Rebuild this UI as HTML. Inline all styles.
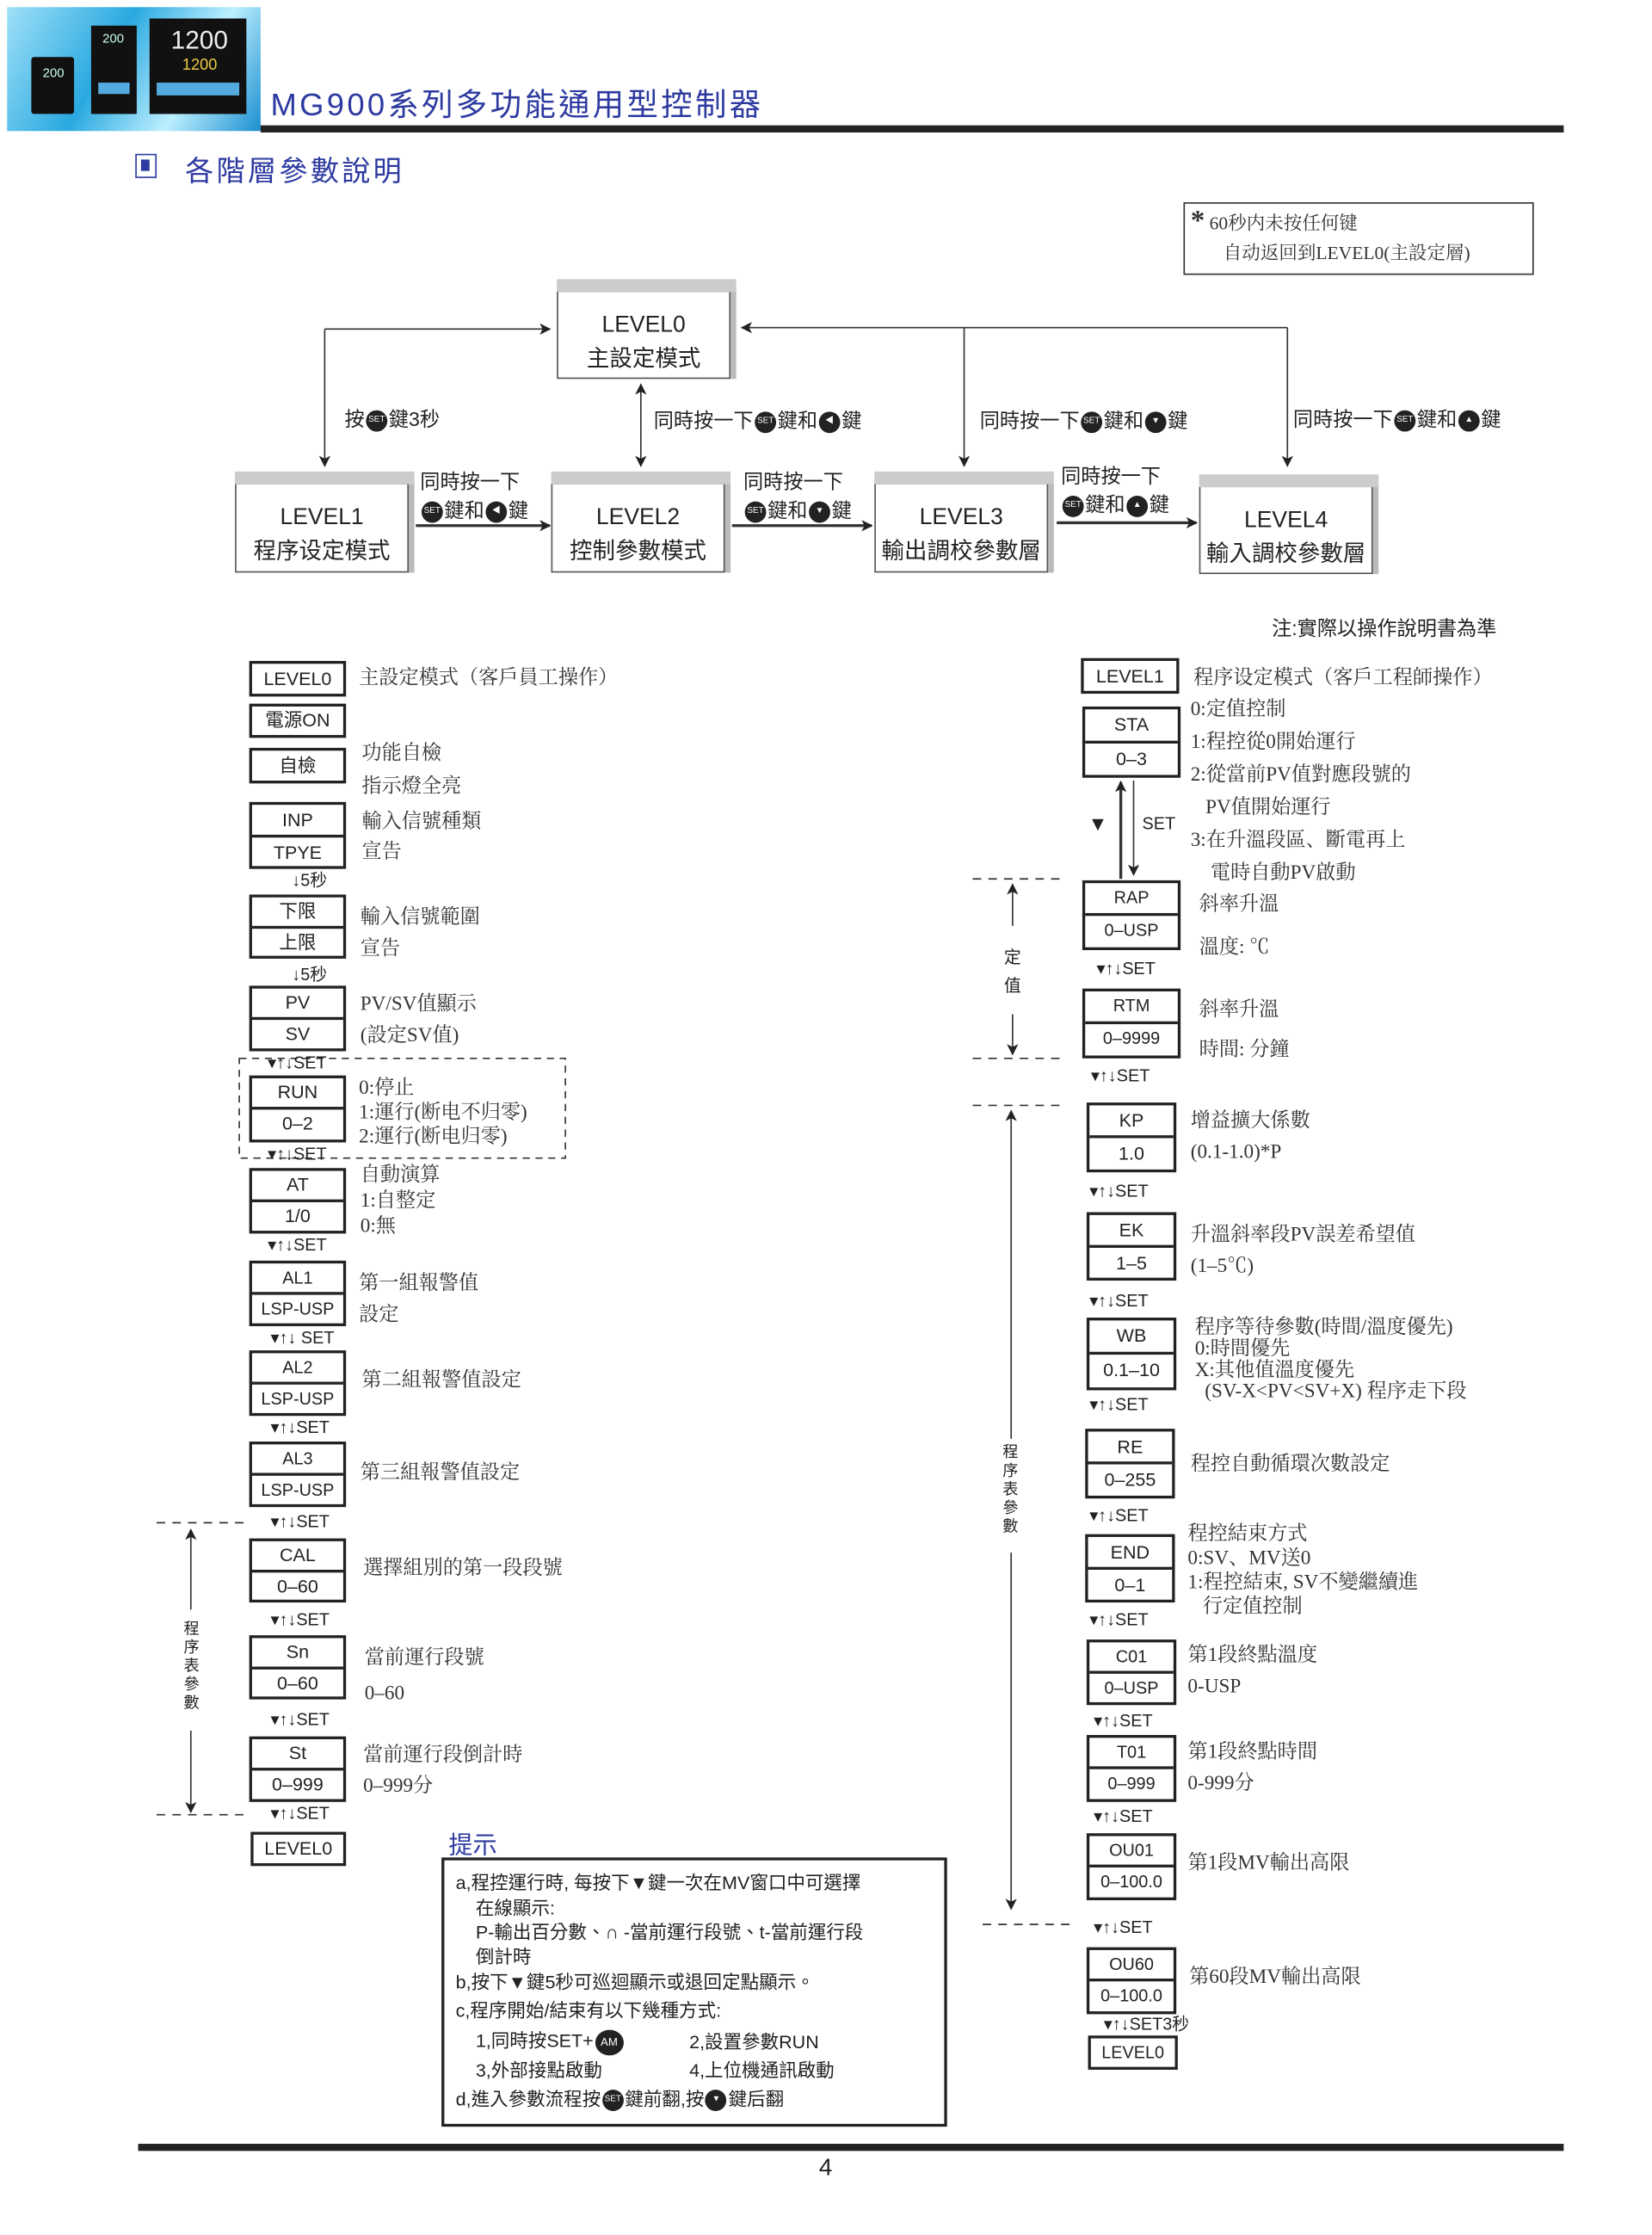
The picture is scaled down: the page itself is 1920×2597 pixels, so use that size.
<!DOCTYPE html>
<html><head><meta charset="utf-8">
<style>
html,body{margin:0;padding:0;background:#fff;}
#w{position:relative;width:1160px;height:1569px;transform:scale(1.65517);transform-origin:0 0;font-family:"Liberation Sans","Noto Sans CJK TC",sans-serif;color:#222;overflow:hidden;}
.a{position:absolute;white-space:nowrap;}
.v{position:absolute;white-space:normal;word-break:break-all;}
.bx{position:absolute;border:2px solid #222;background:#fff;box-sizing:border-box;text-align:center;font-size:13px;}
.bx div{box-sizing:border-box;}
.bx .t{border-bottom:2px solid #222;}
.lv{position:absolute;background:#fff;border:1px solid #555;box-sizing:border-box;text-align:center;font-size:16px;line-height:24px;padding-top:12px;box-shadow:4px 0 0 #bbb;}
.lv:before{content:"";position:absolute;left:-1px;right:-5px;top:-9px;height:9px;background:#ccc;}
.d{font-family:"Liberation Serif","Noto Serif CJK SC",serif;font-size:14px;color:#333;line-height:20px;}
.c{position:absolute;font-size:12px;line-height:14px;}
.k{display:inline-block;width:15px;height:15px;border-radius:50%;background:#222;color:#fff;font-size:6px;line-height:15px;text-align:center;vertical-align:middle;margin:0 1px;}
.ln{position:absolute;background:#333;}
.lbl{font-size:14px;}
</style></head><body>
<div id="w">
<!-- header -->
<div class="a" style="left:5px;top:5px;width:178px;height:87px;background:linear-gradient(120deg,#9fe0f8,#2aa9e0 40%,#bdefff 70%,#1b8fd0);"></div>
<div class="a" style="left:22px;top:40px;width:30px;height:40px;background:#111;border-radius:2px;"></div>
<div class="a" style="left:30px;top:46px;font-size:9px;color:#cfe;">200</div>
<div class="a" style="left:64px;top:18px;width:32px;height:62px;background:#111;"></div>
<div class="a" style="left:72px;top:22px;font-size:9px;color:#cfe;">200</div>
<div class="a" style="left:69px;top:58px;width:22px;height:8px;background:#5ad;"></div>
<div class="a" style="left:105px;top:13px;width:68px;height:67px;background:#111;"></div>
<div class="a" style="left:120px;top:18px;font-size:18px;color:#eee;">1200</div>
<div class="a" style="left:128px;top:40px;font-size:11px;color:#ec4;">1200</div>
<div class="a" style="left:110px;top:58px;width:58px;height:9px;background:#5ad;"></div>
<div class="a" style="left:190px;top:56px;font-size:22px;color:#2d3aa0;letter-spacing:2px;">MG900系列多功能通用型控制器</div>
<div class="ln" style="left:183px;top:88px;width:915px;height:5px;background:#222;"></div>
<div class="a" style="left:95px;top:108px;width:13px;height:15px;border:1px solid #2d3aa0;"></div>
<div class="a" style="left:99px;top:112px;width:6px;height:8px;background:#2d3aa0;"></div>
<div class="a" style="left:130px;top:104px;font-size:20px;color:#2d3aa0;letter-spacing:2px;">各階層參數說明</div>

<!-- note box -->
<div class="a" style="left:831px;top:142px;width:246px;height:51px;border:1px solid #333;box-sizing:border-box;"></div>
<div class="a d" style="left:836px;top:145px;font-size:13px;"><b style="font-size:20px;">*</b> 60秒内未按任何键</div>
<div class="a d" style="left:859px;top:168px;font-size:13px;">自动返回到LEVEL0(主設定層)</div>

<!-- level boxes -->
<div class="lv" style="left:391px;top:204px;width:122px;height:62px;">LEVEL0<br>主設定模式</div>
<div class="lv" style="left:165px;top:339px;width:122px;height:63px;">LEVEL1<br>程序设定模式</div>
<div class="lv" style="left:387px;top:339px;width:122px;height:63px;">LEVEL2<br>控制參數模式</div>
<div class="lv" style="left:614px;top:339px;width:122px;height:63px;">LEVEL3<br>輸出調校參數層</div>
<div class="lv" style="left:842px;top:341px;width:122px;height:62px;">LEVEL4<br>輸入調校參數層</div>

<svg class="a" style="left:0;top:0;" width="1160" height="1569">
<defs><marker id="m" markerWidth="8" markerHeight="8" refX="7" refY="4" orient="auto" markerUnits="userSpaceOnUse"><path d="M0,0 L8,4 L0,8 L2,4z" fill="#222"/></marker></defs>
<g stroke="#333" stroke-width="1" fill="none">
<path d="M228 231 H386" marker-end="url(#m)"/>
<path d="M228 231 V327" marker-end="url(#m)"/>
<path d="M450 300 V270" marker-end="url(#m)"/>
<path d="M450 300 V327" marker-end="url(#m)"/>
<path d="M904 230 H521" marker-end="url(#m)"/>
<path d="M677 230 V327" marker-end="url(#m)"/>
<path d="M904 230 V327" marker-end="url(#m)"/>
<path d="M292 369 H386" stroke-width="2" marker-end="url(#m)"/>
<path d="M514 369 H612" stroke-width="2" marker-end="url(#m)"/>
<path d="M742 367 H840" stroke-width="2" marker-end="url(#m)"/>
<path d="M110 1069 H172 M110 1274 H172" stroke-dasharray="6,5"/>
<path d="M134 1130 V1074" marker-end="url(#m)"/>
<path d="M134 1215 V1272" marker-end="url(#m)"/>
<rect x="168" y="743" width="229" height="70" stroke-dasharray="5,4"/>
<path d="M683 617 H747 M683 743 H747 M683 776 H747 M690 1351 H752" stroke-dasharray="6,5"/>
<path d="M711 650 V621" marker-end="url(#m)"/>
<path d="M711 712 V740" marker-end="url(#m)"/>
<path d="M710 1010 V780" marker-end="url(#m)"/>
<path d="M710 1090 V1340" marker-end="url(#m)"/>
<path d="M787 617 V549" stroke-width="2" marker-end="url(#m)"/>
<path d="M796 548 V614" marker-end="url(#m)"/>
</g>
</svg>
<div class="a lbl" style="left:242px;top:284px;">按<span class="k">SET</span>鍵3秒</div>
<div class="a lbl" style="left:459px;top:285px;">同時按一下<span class="k">SET</span>鍵和<span class="k">◀</span>鍵</div>
<div class="a lbl" style="left:688px;top:285px;">同時按一下<span class="k">SET</span>鍵和<span class="k">▼</span>鍵</div>
<div class="a lbl" style="left:908px;top:284px;">同時按一下<span class="k">SET</span>鍵和<span class="k">▲</span>鍵</div>
<div class="a lbl" style="left:295px;top:328px;line-height:20px;">同時按一下<br><span class="k">SET</span>鍵和<span class="k">◀</span>鍵</div>
<div class="a lbl" style="left:522px;top:328px;line-height:20px;">同時按一下<br><span class="k">SET</span>鍵和<span class="k">▼</span>鍵</div>
<div class="a lbl" style="left:745px;top:324px;line-height:20px;">同時按一下<br><span class="k">SET</span>鍵和<span class="k">▲</span>鍵</div>
<div class="a" style="left:893px;top:431px;font-size:14px;">注:實際以操作說明書為準</div>

<!-- LEFT COLUMN -->
<div class="bx" style="left:175px;top:464px;width:68px;height:25px;line-height:21px;">LEVEL0</div>
<div class="bx" style="left:175px;top:494px;width:68px;height:24px;line-height:20px;">電源ON</div>
<div class="bx" style="left:175px;top:525px;width:68px;height:25px;line-height:21px;">自檢</div>
<div class="bx" style="left:175px;top:563px;width:68px;height:47px;line-height:21px;"><div class="t">INP</div><div>TPYE</div></div>
<div class="c" style="left:205px;top:611px;">↓5秒</div>
<div class="bx" style="left:175px;top:628px;width:68px;height:45px;line-height:20px;"><div class="t">下限</div><div>上限</div></div>
<div class="c" style="left:205px;top:677px;">↓5秒</div>
<div class="bx" style="left:175px;top:692px;width:68px;height:46px;line-height:20px;"><div class="t">PV</div><div>SV</div></div>
<div class="c" style="left:188px;top:739px;">▾↑↓SET</div>
<div class="bx" style="left:175px;top:755px;width:68px;height:47px;line-height:20px;"><div class="t">RUN</div><div>0–2</div></div>
<div class="c" style="left:188px;top:803px;">▾↑↓SET</div>
<div class="bx" style="left:175px;top:820px;width:68px;height:46px;line-height:20px;"><div class="t">AT</div><div>1/0</div></div>
<div class="c" style="left:188px;top:867px;">▾↑↓SET</div>
<div class="bx" style="left:175px;top:885px;width:68px;height:46px;line-height:20px;font-size:12px;"><div class="t">AL1</div><div>LSP-USP</div></div>
<div class="c" style="left:190px;top:932px;">▾↑↓ SET</div>
<div class="bx" style="left:175px;top:948px;width:68px;height:46px;line-height:20px;font-size:12px;"><div class="t">AL2</div><div>LSP-USP</div></div>
<div class="c" style="left:190px;top:995px;">▾↑↓SET</div>
<div class="bx" style="left:175px;top:1012px;width:68px;height:46px;line-height:20px;font-size:12px;"><div class="t">AL3</div><div>LSP-USP</div></div>
<div class="c" style="left:190px;top:1061px;">▾↑↓SET</div>
<div class="bx" style="left:175px;top:1080px;width:68px;height:45px;line-height:20px;"><div class="t">CAL</div><div>0–60</div></div>
<div class="c" style="left:190px;top:1130px;">▾↑↓SET</div>
<div class="bx" style="left:175px;top:1148px;width:68px;height:45px;line-height:20px;"><div class="t">Sn</div><div>0–60</div></div>
<div class="c" style="left:190px;top:1200px;">▾↑↓SET</div>
<div class="bx" style="left:175px;top:1219px;width:68px;height:46px;line-height:20px;"><div class="t">St</div><div>0–999</div></div>
<div class="c" style="left:190px;top:1266px;">▾↑↓SET</div>
<div class="bx" style="left:176px;top:1286px;width:67px;height:24px;line-height:20px;">LEVEL0</div>

<div class="a d" style="left:252px;top:467px;">主設定模式（客戶員工操作）</div>
<div class="a d" style="left:254px;top:518px;line-height:23px;">功能自檢<br>指示燈全亮</div>
<div class="a d" style="left:254px;top:567px;line-height:21px;">輸入信號種類<br>宣告</div>
<div class="a d" style="left:253px;top:634px;line-height:22px;">輸入信號範圍<br>宣告</div>
<div class="a d" style="left:253px;top:695px;line-height:22px;">PV/SV值顯示<br>(設定SV值)</div>
<div class="a d" style="left:252px;top:756px;line-height:17px;">0:停止<br>1:運行(断电不归零)<br>2:運行(断电归零)</div>
<div class="a d" style="left:253px;top:817px;line-height:18px;">自動演算<br>1:自整定<br>0:無</div>
<div class="a d" style="left:252px;top:891px;line-height:22px;">第一組報警值<br>設定</div>
<div class="a d" style="left:254px;top:960px;">第二組報警值設定</div>
<div class="a d" style="left:253px;top:1025px;">第三組報警值設定</div>
<div class="a d" style="left:255px;top:1092px;">選擇組別的第一段段號</div>
<div class="a d" style="left:256px;top:1152px;line-height:25px;">當前運行段號<br>0–60</div>
<div class="a d" style="left:255px;top:1222px;line-height:22px;">當前運行段倒計時<br>0–999分</div>
<div class="v" style="left:129px;top:1138px;font-size:11px;line-height:13px;width:12px;">程序表參數</div>

<!-- RIGHT COLUMN -->
<div class="bx" style="left:759px;top:462px;width:69px;height:25px;line-height:21px;">LEVEL1</div>
<div class="bx" style="left:760px;top:496px;width:69px;height:50px;line-height:22px;"><div class="t">STA</div><div>0–3</div></div>
<div class="c" style="left:764px;top:571px;font-size:14px;">▼</div>
<div class="c" style="left:802px;top:571px;">SET</div>
<div class="bx" style="left:760px;top:618px;width:69px;height:49px;line-height:21px;font-size:12px;"><div class="t">RAP</div><div>0–USP</div></div>
<div class="c" style="left:770px;top:673px;">▾↑↓SET</div>
<div class="bx" style="left:760px;top:694px;width:69px;height:49px;line-height:21px;font-size:12px;"><div class="t">RTM</div><div>0–9999</div></div>
<div class="c" style="left:766px;top:748px;">▾↑↓SET</div>
<div class="bx" style="left:763px;top:774px;width:63px;height:49px;line-height:21px;"><div class="t">KP</div><div>1.0</div></div>
<div class="c" style="left:765px;top:829px;">▾↑↓SET</div>
<div class="bx" style="left:763px;top:851px;width:63px;height:48px;line-height:21px;"><div class="t">EK</div><div>1–5</div></div>
<div class="c" style="left:765px;top:906px;">▾↑↓SET</div>
<div class="bx" style="left:763px;top:925px;width:63px;height:51px;line-height:22px;"><div class="t">WB</div><div>0.1–10</div></div>
<div class="c" style="left:765px;top:979px;">▾↑↓SET</div>
<div class="bx" style="left:762px;top:1003px;width:63px;height:49px;line-height:21px;"><div class="t">RE</div><div>0–255</div></div>
<div class="c" style="left:765px;top:1057px;">▾↑↓SET</div>
<div class="bx" style="left:762px;top:1077px;width:63px;height:48px;line-height:21px;"><div class="t">END</div><div>0–1</div></div>
<div class="c" style="left:765px;top:1130px;">▾↑↓SET</div>
<div class="bx" style="left:763px;top:1151px;width:63px;height:46px;line-height:20px;font-size:12px;"><div class="t">C01</div><div>0–USP</div></div>
<div class="c" style="left:768px;top:1201px;">▾↑↓SET</div>
<div class="bx" style="left:763px;top:1218px;width:63px;height:47px;line-height:20px;font-size:12px;"><div class="t">T01</div><div>0–999</div></div>
<div class="c" style="left:768px;top:1268px;">▾↑↓SET</div>
<div class="bx" style="left:763px;top:1287px;width:63px;height:47px;line-height:20px;font-size:12px;"><div class="t">OU01</div><div>0–100.0</div></div>
<div class="c" style="left:768px;top:1346px;">▾↑↓SET</div>
<div class="bx" style="left:763px;top:1367px;width:63px;height:47px;line-height:20px;font-size:12px;"><div class="t">OU60</div><div>0–100.0</div></div>
<div class="c" style="left:775px;top:1414px;">▾↑↓SET3秒</div>
<div class="bx" style="left:764px;top:1429px;width:63px;height:24px;line-height:20px;font-size:12px;">LEVEL0</div>

<div class="a d" style="left:838px;top:467px;">程序设定模式（客戶工程師操作）</div>
<div class="a d" style="left:836px;top:487px;line-height:23px;">0:定值控制<br>1:程控從0開始運行<br>2:從當前PV值對應段號的<br>&nbsp;&nbsp;&nbsp;PV值開始運行<br>3:在升溫段區、斷電再上<br>&nbsp;&nbsp;&nbsp;&nbsp;電時自動PV啟動</div>
<div class="a d" style="left:842px;top:621px;line-height:30px;">斜率升溫<br>溫度: ℃</div>
<div class="a d" style="left:842px;top:696px;line-height:28px;">斜率升溫<br>時間: 分鐘</div>
<div class="a d" style="left:836px;top:777px;line-height:22px;">增益擴大係數<br>(0.1-1.0)*P</div>
<div class="a d" style="left:836px;top:857px;line-height:22px;">升溫斜率段PV誤差希望值<br>(1–5℃)</div>
<div class="a d" style="left:839px;top:925px;line-height:15px;">程序等待參數(時間/溫度優先)<br>0:時間優先<br>X:其他值溫度優先<br>&nbsp;&nbsp;(SV-X&lt;PV&lt;SV+X) 程序走下段</div>
<div class="a d" style="left:836px;top:1019px;">程控自動循環次數設定</div>
<div class="a d" style="left:834px;top:1069px;line-height:17px;">程控結束方式<br>0:SV、MV送0<br>1:程控結束, SV不變繼續進<br>&nbsp;&nbsp;&nbsp;行定值控制</div>
<div class="a d" style="left:834px;top:1152px;line-height:22px;">第1段終點溫度<br>0-USP</div>
<div class="a d" style="left:834px;top:1220px;line-height:22px;">第1段終點時間<br>0-999分</div>
<div class="a d" style="left:834px;top:1299px;">第1段MV輸出高限</div>
<div class="a d" style="left:835px;top:1379px;">第60段MV輸出高限</div>
<div class="v" style="left:705px;top:662px;font-size:12px;line-height:20px;width:14px;">定<br>值</div>
<div class="v" style="left:704px;top:1014px;font-size:11px;line-height:13px;width:12px;">程序表參數</div>

<!-- tips -->
<div class="a" style="left:315px;top:1281px;font-size:17px;color:#2d3aa0;">提示</div>
<div class="a" style="left:310px;top:1304px;width:355px;height:189px;border:2px solid #222;box-sizing:border-box;"></div>
<div class="a" style="left:320px;top:1313px;font-size:13px;line-height:18px;">a,程控運行時, 每按下▼鍵一次在MV窗口中可選擇</div>
<div class="a" style="left:334px;top:1331px;font-size:13px;line-height:18px;">在線顯示:</div>
<div class="a" style="left:334px;top:1348px;font-size:13px;line-height:18px;">P-輸出百分數、∩ -當前運行段號、t-當前運行段</div>
<div class="a" style="left:334px;top:1365px;font-size:13px;line-height:18px;">倒計時</div>
<div class="a" style="left:320px;top:1383px;font-size:13px;line-height:18px;">b,按下▼鍵5秒可巡迴顯示或退回定點顯示。</div>
<div class="a" style="left:320px;top:1403px;font-size:13px;line-height:18px;">c,程序開始/結束有以下幾種方式:</div>
<div class="a" style="left:334px;top:1424px;font-size:13px;line-height:18px;">1,同時按SET+<span class="k" style="width:20px;height:18px;font-size:8px;line-height:18px;">AM</span></div>
<div class="a" style="left:334px;top:1445px;font-size:13px;line-height:18px;">3,外部接點啟動</div>
<div class="a" style="left:484px;top:1425px;font-size:13px;line-height:18px;">2,設置參數RUN</div>
<div class="a" style="left:484px;top:1445px;font-size:13px;line-height:18px;">4,上位機通訊啟動</div>
<div class="a" style="left:320px;top:1465px;font-size:13px;line-height:18px;">d,進入參數流程按<span class="k">SET</span>鍵前翻,按<span class="k">▼</span>鍵后翻</div>

<div class="ln" style="left:97px;top:1505px;width:1001px;height:5px;background:#222;"></div>
<div class="a" style="left:575px;top:1512px;font-size:17px;">4</div>
</div>
</body></html>
